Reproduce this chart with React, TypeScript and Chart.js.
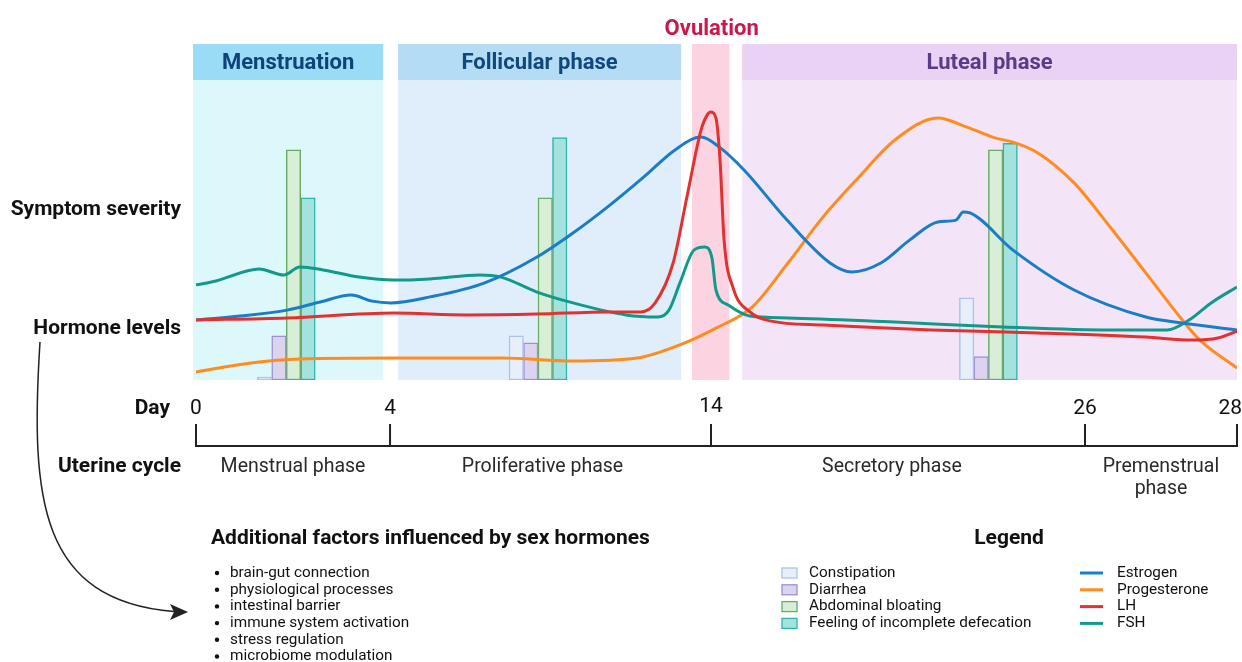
import React, { useEffect, useRef } from 'react';
import { Chart, registerables, LinearScale } from 'chart.js';

// ---- Day axis (non-linear spacing as in the reference) ----
const DAY_TICKS = [0, 4, 14, 26, 28];
const DAY_AXIS_FRACTION = [0, 0.1864, 0.4947, 0.854, 1];

// ---- Hormone curves (day, relative level 0-100) ----
const ESTROGEN_DAYS = [0, 0.91, 1.88, 2.56, 3.2, 3.63, 4.03, 5.25, 6.93, 8.58, 9.7, 10.85, 11.91, 12.88, 13.69, 14.26, 15.06, 16.44, 17.82, 18.52, 19.45, 20.38, 21.28, 21.86, 22.09, 22.31, 23.69, 25.65, 26.8, 27.28, 28];
const ESTROGEN = [20, 21.3, 23.3, 26, 28.3, 26.3, 25.7, 27.7, 32.3, 41, 49, 58.3, 67.7, 76.7, 81, 77.7, 70, 53.3, 39, 36, 39, 46.7, 52.7, 53.3, 56, 55.7, 43.3, 30, 21, 19, 16.7];

const PROGESTERONE_DAYS = [0, 1.13, 2.16, 4.12, 7.46, 9.7, 11.7, 13.03, 14.16, 15.32, 16.47, 17.59, 18.75, 19.9, 21.28, 22.21, 23.11, 23.69, 24.49, 25.65, 26.33, 26.8, 27.28, 27.51, 28];
const PROGESTERONE = [2.7, 5.7, 7, 7.3, 7.3, 6.3, 7.3, 11.7, 17.3, 24.3, 39, 54.3, 67.7, 80, 87.3, 84.3, 80.7, 79.3, 75.7, 65.7, 51, 35.7, 20, 13.3, 4];

const LH_DAYS = [0, 1.88, 4.12, 6.37, 8.58, 10.82, 11.82, 12.26, 12.82, 13.25, 13.69, 13.88, 14, 14.16, 14.29, 14.42, 14.71, 15.25, 15.89, 17.59, 21.06, 24.49, 26.8, 27.41, 27.75, 28];
const LH = [20, 20.7, 22.3, 21.7, 22, 22.7, 22.7, 25.7, 39, 61, 83.3, 88.3, 89.3, 87.3, 73.3, 46.7, 30.7, 22.7, 19.7, 18.3, 16.7, 15.7, 14.3, 13.3, 14, 16.3];

const FSH_DAYS = [0, 0.41, 1.3, 1.81, 2.14, 2.62, 3.36, 4.12, 5.25, 6.8, 7.46, 8.58, 9.7, 11.35, 12.35, 12.69, 13.03, 13.47, 13.81, 14.03, 14.16, 14.55, 15.25, 16.47, 19.9, 23.37, 26.33, 27.08, 27.37, 27.66, 28];
const FSH = [31.7, 33, 37, 35, 37.7, 36.7, 34.3, 33.3, 33.7, 35, 34.3, 29.3, 25.7, 21.7, 21, 23.3, 32.3, 43.3, 44.3, 40.7, 30, 25, 21.3, 20.7, 19.3, 17.7, 16.7, 16.7, 20, 25.7, 31];

// ---- Symptom severity bars ----
const SYMPTOM_DAYS = [1.86, 8.61, 22.9];
const CONSTIPATION = [1, 14.7, 27.4];
const DIARRHEA = [14.7, 12.4, 7.8];
const BLOATING = [76.7, 60.7, 76.7];
const INCOMPLETE_DEFECATION = [60.7, 80.8, 78.9];

// ---- Phases ----
const PHASE_NAMES = ['Menstruation', 'Follicular phase', 'Ovulation', 'Luteal phase'];
const PHASE_START = [-0.06, 4.25, 13.41, 15.0];
const PHASE_END = [3.86, 13.07, 14.59, 28];
const PHASE_HEADER = ['#9adcf5', '#b4dcf4', '#fcd4e1', '#ead2f5'];
const PHASE_BODY = ['#dcf8fa', '#e0eefc', '#fcd4e1', '#f3e5f7'];
const PHASE_TEXT = ['#0f4279', '#12467f', '#c9184b', '#5a3b88'];

const UTERINE_PHASES = ['Menstrual phase', 'Proliferative phase', 'Secretory phase', 'Premenstrual|phase'];
const UTERINE_START = [0, 4, 14, 26];
const UTERINE_END = [4, 14, 26, 28];

const FACTORS = ['brain-gut connection', 'physiological processes', 'intestinal barrier', 'immune system activation', 'stress regulation', 'microbiome modulation'];

const SYMPTOM_LABELS = ['Constipation', 'Diarrhea', 'Abdominal bloating', 'Feeling of incomplete defecation'];
const SYMPTOM_FILL = ['#e8effb', '#dcd4ef', '#d6efd6', '#a4e2de'];
const SYMPTOM_BORDER = ['#aec3ea', '#9c92d2', '#6caa68', '#2eb3b0'];

const HORMONE_LABELS = ['Estrogen', 'Progesterone', 'LH', 'FSH'];
const HORMONE_COLORS = ['#1a7dc6', '#ff8c1f', '#e2312f', '#12998a'];

function dayToFrac(d: number) {
  const a = DAY_TICKS, f = DAY_AXIS_FRACTION;
  let i = 0;
  if (d >= a[a.length - 1]) i = a.length - 2;
  else if (d > a[0]) { while (i < a.length - 2 && d > a[i + 1]) i++; }
  return f[i] + ((d - a[i]) / (a[i + 1] - a[i])) * (f[i + 1] - f[i]);
}
function fracToDay(fr: number) {
  const a = DAY_TICKS, f = DAY_AXIS_FRACTION;
  let i = 0;
  if (fr >= f[f.length - 1]) i = f.length - 2;
  else if (fr > f[0]) { while (i < f.length - 2 && fr > f[i + 1]) i++; }
  return a[i] + ((fr - f[i]) / (f[i + 1] - f[i])) * (a[i + 1] - a[i]);
}

class PiecewiseDayScale extends LinearScale {
  static id = 'piecewiseDay';
  static defaults = LinearScale.defaults;
  getPixelForValue(value: any) {
    if (value === null || value === undefined || isNaN(value)) return NaN;
    return this.left + dayToFrac(value) * this.width;
  }
  getValueForPixel(pixel: number) {
    return fracToDay((pixel - this.left) / this.width);
  }
}

Chart.register(...registerables, PiecewiseDayScale);

const FONT = 'Roboto, "Noto Sans", sans-serif';

const decorPlugin = {
  id: 'decor',
  beforeDatasetsDraw(chart: any) {
    const { ctx, chartArea: ca, scales } = chart;
    const x = scales.x;
    ctx.save();
    for (let i = 0; i < PHASE_NAMES.length; i++) {
      const x0 = x.getPixelForValue(PHASE_START[i]);
      const x1 = x.getPixelForValue(PHASE_END[i]);
      const headTop = ca.top - 36;
      ctx.font = `bold 22px ${FONT}`;
      ctx.textAlign = 'center';
      ctx.textBaseline = 'middle';
      if (PHASE_NAMES[i] === 'Ovulation') {
        ctx.fillStyle = PHASE_BODY[i];
        ctx.fillRect(x0, headTop, x1 - x0, ca.bottom - headTop);
        ctx.fillStyle = PHASE_TEXT[i];
        ctx.fillText(PHASE_NAMES[i], (x0 + x1) / 2 + 1, headTop - 15);
      } else {
        ctx.fillStyle = PHASE_HEADER[i];
        ctx.fillRect(x0, headTop, x1 - x0, 36);
        ctx.fillStyle = PHASE_BODY[i];
        ctx.fillRect(x0, ca.top, x1 - x0, ca.bottom - ca.top);
        ctx.fillStyle = PHASE_TEXT[i];
        ctx.fillText(PHASE_NAMES[i], (x0 + x1) / 2, headTop + 19.5);
      }
    }
    ctx.restore();
  },
  afterDraw(chart: any) {
    const { ctx, scales, width } = chart;
    const x = scales.x;
    ctx.save();
    // left labels
    ctx.fillStyle = '#111';
    ctx.font = `bold 21px ${FONT}`;
    ctx.textAlign = 'right';
    ctx.textBaseline = 'middle';
    ctx.fillText('Symptom severity', 181, 210);
    ctx.fillText('Hormone levels', 181, 329);
    ctx.fillText('Day', 170, 409);
    ctx.fillText('Uterine cycle', 181, 467);

    // day axis
    const axisY = 446;
    ctx.strokeStyle = '#222';
    ctx.lineWidth = 2;
    ctx.beginPath();
    ctx.moveTo(x.getPixelForValue(DAY_TICKS[0]) - 1, axisY);
    ctx.lineTo(x.getPixelForValue(DAY_TICKS[DAY_TICKS.length - 1]) + 1, axisY);
    ctx.stroke();
    ctx.font = `21px ${FONT}`;
    ctx.textBaseline = 'middle';
    DAY_TICKS.forEach((d) => {
      const px = x.getPixelForValue(d);
      ctx.beginPath();
      ctx.moveTo(px, axisY);
      ctx.lineTo(px, 424);
      ctx.stroke();
      const label = String(d);
      const w = ctx.measureText(label).width;
      let cx = px;
      if (cx + w / 2 > width) cx = width - w / 2;
      ctx.textAlign = 'center';
      ctx.fillText(label, cx, d === 14 ? 407 : 409);
    });

    // uterine cycle labels
    ctx.fillStyle = '#2a2a2a';
    ctx.font = `19.5px ${FONT}`;
    ctx.textAlign = 'center';
    UTERINE_PHASES.forEach((name, i) => {
      const cx = (x.getPixelForValue(UTERINE_START[i]) + x.getPixelForValue(UTERINE_END[i])) / 2;
      const lines = name.split('|');
      lines.forEach((ln, j) => ctx.fillText(ln, cx - (i === 1 ? 8 : i === 2 ? 6 : 0), 467 + j * 22));
    });

    // additional factors
    ctx.fillStyle = '#111';
    ctx.textAlign = 'left';
    ctx.font = `bold 21px ${FONT}`;
    ctx.fillText('Additional factors influenced by sex hormones', 211, 539);
    ctx.font = `15.3px ${FONT}`;
    FACTORS.forEach((f, i) => {
      const y = 573 + i * 16.7;
      ctx.beginPath();
      ctx.arc(217, y, 2.2, 0, Math.PI * 2);
      ctx.fill();
      ctx.fillText(f, 230, y);
    });

    // legend
    ctx.font = `bold 21px ${FONT}`;
    ctx.textAlign = 'center';
    ctx.fillText('Legend', 1009, 539);
    ctx.textAlign = 'left';
    ctx.font = `15.3px ${FONT}`;
    SYMPTOM_LABELS.forEach((s, i) => {
      const y = 573 + i * 16.8;
      ctx.fillStyle = SYMPTOM_FILL[i];
      ctx.strokeStyle = SYMPTOM_BORDER[i];
      ctx.lineWidth = 1.3;
      ctx.fillRect(782, y - 5, 15, 10);
      ctx.strokeRect(782, y - 5, 15, 10);
      ctx.fillStyle = '#111';
      ctx.fillText(s, 809, y);
    });
    HORMONE_LABELS.forEach((h, i) => {
      const y = 573 + i * 16.8;
      ctx.strokeStyle = HORMONE_COLORS[i];
      ctx.lineWidth = 3;
      ctx.beginPath();
      ctx.moveTo(1080, y);
      ctx.lineTo(1103, y);
      ctx.stroke();
      ctx.fillStyle = '#111';
      ctx.fillText(h, 1117, y);
    });

    // curved arrow
    ctx.strokeStyle = '#222';
    ctx.lineWidth = 1.5;
    ctx.beginPath();
    ctx.moveTo(40, 342);
    ctx.bezierCurveTo(30, 500, 40, 600, 174, 611.5);
    ctx.stroke();
    ctx.fillStyle = '#222';
    ctx.beginPath();
    ctx.moveTo(188, 612);
    ctx.lineTo(170, 604);
    ctx.lineTo(174, 612);
    ctx.lineTo(170, 620);
    ctx.closePath();
    ctx.fill();
    ctx.restore();
  },
};

function lineDataset(label: string, days: number[], vals: number[], color: string) {
  return {
    type: 'line' as const,
    label,
    data: days.map((d, i) => ({ x: d, y: vals[i] })),
    borderColor: color,
    backgroundColor: color,
    borderWidth: 3,
    pointRadius: 0,
    cubicInterpolationMode: 'monotone' as const,
    fill: false,
    order: 0,
  };
}

function barDataset(label: string, vals: number[], fill: string, border: string) {
  return {
    type: 'bar' as const,
    label,
    data: SYMPTOM_DAYS.map((d, i) => ({ x: d, y: vals[i] })),
    backgroundColor: fill,
    borderColor: border,
    borderWidth: 1.5,
    borderSkipped: false,
    barThickness: 14.5,
    order: 1,
  };
}

export default function App() {
  const ref = useRef<HTMLCanvasElement>(null);
  useEffect(() => {
    if (!ref.current) return;
    const chart = new Chart(ref.current, {
      type: 'line',
      data: {
        datasets: [
          lineDataset(HORMONE_LABELS[2], LH_DAYS, LH, HORMONE_COLORS[2]),
          lineDataset(HORMONE_LABELS[0], ESTROGEN_DAYS, ESTROGEN, HORMONE_COLORS[0]),
          lineDataset(HORMONE_LABELS[3], FSH_DAYS, FSH, HORMONE_COLORS[3]),
          lineDataset(HORMONE_LABELS[1], PROGESTERONE_DAYS, PROGESTERONE, HORMONE_COLORS[1]),
          barDataset(SYMPTOM_LABELS[0], CONSTIPATION, SYMPTOM_FILL[0], SYMPTOM_BORDER[0]),
          barDataset(SYMPTOM_LABELS[1], DIARRHEA, SYMPTOM_FILL[1], SYMPTOM_BORDER[1]),
          barDataset(SYMPTOM_LABELS[2], BLOATING, SYMPTOM_FILL[2], SYMPTOM_BORDER[2]),
          barDataset(SYMPTOM_LABELS[3], INCOMPLETE_DEFECATION, SYMPTOM_FILL[3], SYMPTOM_BORDER[3]),
        ] as any,
      },
      options: {
        responsive: false,
        animation: false,
        devicePixelRatio: 1,
        layout: { padding: { left: 196, right: 5, top: 80, bottom: 282 } },
        plugins: { legend: { display: false }, tooltip: { enabled: false } },
        scales: {
          x: { type: 'piecewiseDay' as any, min: 0, max: 28, display: false, offset: false },
          y: { type: 'linear', min: 0, max: 100, display: false },
        },
      } as any,
      plugins: [decorPlugin],
    });
    return () => chart.destroy();
  }, []);
  return (
    <div style={{ position: 'fixed', left: 0, top: 0, width: 1242, height: 662, background: '#fff' }}>
      <canvas ref={ref} width={1242} height={662} style={{ display: 'block', width: 1242, height: 662 }} />
    </div>
  );
}
